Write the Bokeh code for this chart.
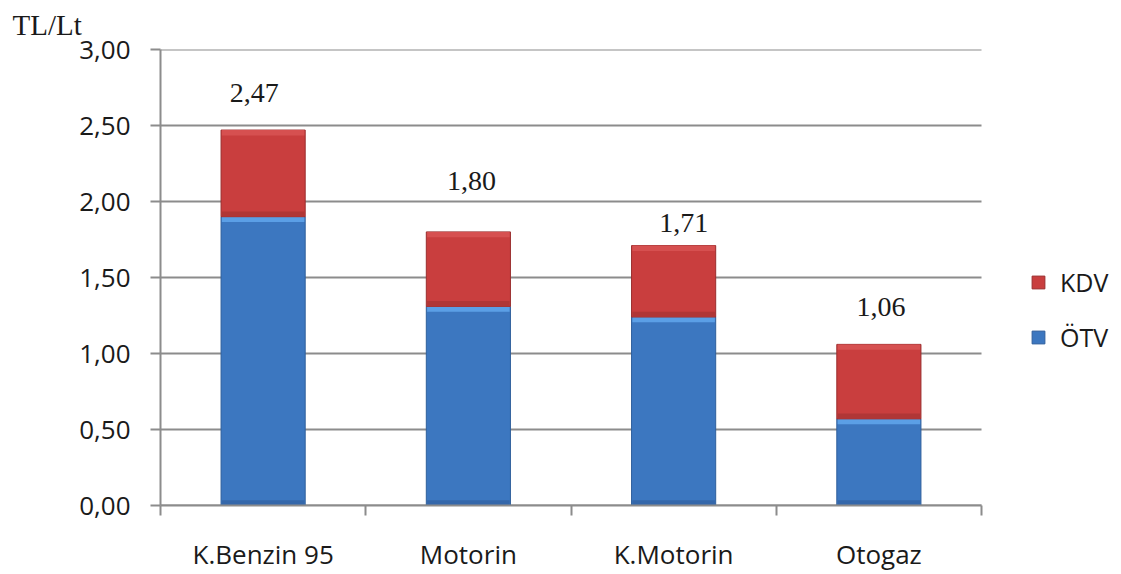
import numpy as np
from bokeh.plotting import figure
from bokeh.models import Range1d, FixedTicker, Legend, LegendItem, ColumnDataSource, Title
from bokeh.core.properties import value
from bokeh.embed import file_html
from bokeh.resources import INLINE

# ---- data ----
categories = ["K.Benzin 95", "Motorin", "K.Motorin", "Otogaz"]
otv = [1.90, 1.31, 1.24, 0.57]
kdv = [0.57, 0.49, 0.47, 0.49]
totals = [2.47, 1.80, 1.71, 1.06]
total_labels = ["2,47", "1,80", "1,71", "1,06"]
y_ticks = [0.0, 0.5, 1.0, 1.5, 2.0, 2.5, 3.0]
y_tick_labels = ["0,00", "0,50", "1,00", "1,50", "2,00", "2,50", "3,00"]
unit_label = "TL/Lt"

# ---- style / layout ----
label_dy = [-37, -51, -23, -37]
label_dx = [-9, 3, 10, 2]
BAR_W = 0.41
BEVEL = 0.035
GRID = "#8c8c8c"
SANS = "Open Sans"
SERIF = "Liberation Serif"
W, H = 1121, 574
LEFT, RIGHT, TOP, BOTTOM = 160, 10, 49, 66
CAT_PX = 205.25  # pixel width of one category slot

n = len(categories)
xc = np.arange(n) + 0.5
otv_a = np.array(otv)
kdv_a = np.array(kdv)
top_a = otv_a + kdv_a
x_end = (W - LEFT - RIGHT) / CAT_PX

p = figure(width=W, height=H, output_backend="svg", toolbar_location=None,
           x_range=Range1d(0, x_end), y_range=Range1d(0, 3),
           min_border_left=LEFT, min_border_right=RIGHT, min_border_top=TOP,
           min_border_bottom=BOTTOM)
p.outline_line_color = None
p.background_fill_color = "white"
p.border_fill_color = "white"
p.xgrid.grid_line_color = None
p.ygrid.grid_line_color = None

# horizontal gridlines limited to the category area
p.segment(x0=[0] * len(y_ticks), x1=[n] * len(y_ticks), y0=y_ticks, y1=y_ticks,
          line_color=GRID, line_width=2)

# unit title at top-left
p.title = Title(text=unit_label, align="left", offset=-148, text_font=SERIF,
                text_font_size="29px", text_font_style="normal", text_color="#1a1a1a",
                standoff=13, vertical_align="top")

# y axis
ya = p.yaxis[0]
ya.ticker = FixedTicker(ticks=y_ticks)
ya.major_label_overrides = {t: l for t, l in zip(y_ticks, y_tick_labels)}
ya.axis_line_color = GRID
ya.axis_line_width = 2
ya.major_tick_line_color = GRID
ya.major_tick_line_width = 2
ya.major_tick_out = 10
ya.major_tick_in = 0
ya.minor_tick_line_color = None
ya.major_label_text_font = SANS
ya.major_label_text_font_size = "26px"
ya.major_label_text_color = "#1a1a1a"
ya.major_label_standoff = 20

# x axis
xa = p.xaxis[0]
xa.bounds = (0, n)
xa.ticker = FixedTicker(ticks=list(xc), minor_ticks=list(range(n + 1)))
xa.major_label_overrides = {float(x): c for x, c in zip(xc, categories)}
xa.axis_line_color = GRID
xa.axis_line_width = 2
xa.major_tick_line_color = None
xa.major_tick_out = 0
xa.major_tick_in = 0
xa.minor_tick_line_color = GRID
xa.minor_tick_line_width = 2
xa.minor_tick_out = 10
xa.minor_tick_in = 0
xa.major_label_text_font = SANS
xa.major_label_text_font_size = "26px"
xa.major_label_text_color = "#1a1a1a"
xa.major_label_standoff = 20

# bars: ÖTV (blue)
r_otv = p.vbar(x=xc, bottom=0, top=otv_a, width=BAR_W, fill_color="#3c77c0",
               line_color="#2f5f9c", line_width=1)
p.vbar(x=xc, bottom=0, top=BEVEL, width=BAR_W - 0.008, fill_color="#3467aa", line_color=None)
p.vbar(x=xc, bottom=otv_a - BEVEL, top=otv_a, width=BAR_W - 0.008, fill_color="#5b9fe6", line_color=None)
# bars: KDV (red)
r_kdv = p.vbar(x=xc, bottom=otv_a, top=top_a, width=BAR_W, fill_color="#c93e3e",
               line_color="#9a2e2e", line_width=1)
p.vbar(x=xc, bottom=otv_a, top=otv_a + BEVEL, width=BAR_W - 0.008, fill_color="#b03636", line_color=None)
p.vbar(x=xc, bottom=top_a - BEVEL, top=top_a, width=BAR_W - 0.008, fill_color="#d65050", line_color=None)

# value labels
src = ColumnDataSource(dict(x=xc, y=totals, t=total_labels, dy=label_dy, dx=label_dx))
p.text(x="x", y="y", text="t", source=src, x_offset="dx", y_offset="dy",
       text_align="center", text_baseline="middle",
       text_font=value(SERIF), text_font_size="28px", text_color="#1a1a1a")

legend = Legend(items=[LegendItem(label="KDV", renderers=[r_kdv]),
                       LegendItem(label="ÖTV", renderers=[r_otv])],
                location=(870, 151), orientation="vertical")
legend.label_text_font = SANS
legend.label_text_font_size = "25px"
legend.label_text_color = "#1a1a1a"
legend.glyph_width = 16
legend.glyph_height = 16
legend.label_standoff = 14
legend.spacing = 21
legend.padding = 0
legend.margin = 0
legend.border_line_color = None
legend.background_fill_alpha = 0
p.add_layout(legend)

open("out.html", "w").write(file_html(p, INLINE))
